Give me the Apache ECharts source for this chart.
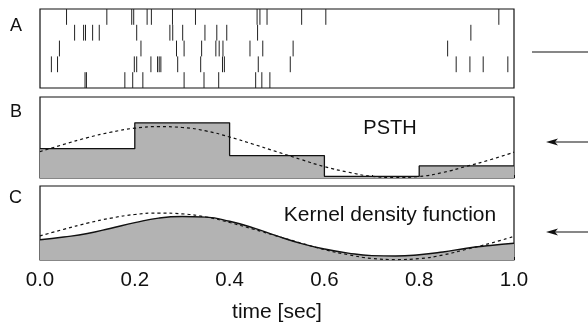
<!DOCTYPE html>
<html><head><meta charset="utf-8">
<script src="https://cdn.jsdelivr.net/npm/echarts@6/dist/echarts.min.js"></script>
<style>html,body{margin:0;padding:0;background:#fff}#c{width:588px;height:324px}</style>
</head><body><div id="c"></div>
<script>
// Spike times (sec) per trial
const trial1 = [0.056,0.141,0.1935,0.1977,0.226,0.235,0.2795,0.328,0.458,0.464,0.479,0.552,0.603,0.968];
const trial2 = [0.073,0.092,0.096,0.111,0.125,0.204,0.274,0.280,0.301,0.348,0.373,0.394,0.459,0.909];
const trial3 = [0.041,0.213,0.288,0.304,0.341,0.371,0.378,0.386,0.443,0.470,0.534,0.860];
const trial4 = [0.024,0.037,0.199,0.204,0.234,0.248,0.2515,0.255,0.2905,0.339,0.385,0.389,0.4605,0.528,0.878,0.907,0.935,0.987];
const trial5 = [0.095,0.098,0.179,0.1956,0.217,0.304,0.346,0.377,0.455,0.468,0.485];
const trials = [trial1, trial2, trial3, trial4, trial5];

// PSTH (spikes / s) per 0.2 s bin
const binEdges = [0, 0.2, 0.4, 0.6, 0.8, 1.0];
const psthRate = [17, 32, 13, 1, 7];

// Underlying rate (dashed) and kernel density estimate (solid), sampled every 0.05 s
const tGrid = [0,0.05,0.1,0.15,0.2,0.25,0.3,0.35,0.4,0.45,0.5,0.55,0.6,0.65,0.7,0.75,0.8,0.85,0.9,0.95,1.0];
const trueRate = [15.3,19.5,23.4,26.6,28.9,29.8,29.3,27.3,23.8,19.6,15.2,10.8,6.6,3.4,1.0,0.3,0.9,3.2,6.8,10.6,15.0];
const kdeRate = [12.9,14.6,16.8,20.2,23.7,26.6,27.6,27.2,24.6,20.4,15.3,10.6,7.0,4.4,2.8,2.5,3.3,5.1,7.5,9.2,10.6];

const tickLabels = ['0.0','0.2','0.4','0.6','0.8','1.0'];
const yMax = 47;

const spikes = [];
trials.forEach((tr, i) => tr.forEach(t => spikes.push([t, i])));
const psthData = binEdges.map((e, i) => [e, psthRate[Math.min(i, psthRate.length - 1)]]);
const trueData = tGrid.map((t, i) => [t, trueRate[i]]);
const kdeData = tGrid.map((t, i) => [t, kdeRate[i]]);

const FONT = 'Liberation Sans, Arial, sans-serif';
const border = {show: true, borderColor: '#111', borderWidth: 1.2, backgroundColor: '#fff'};
const grids = [
  Object.assign({left: 40, width: 474, top: 9, height: 79}, border),
  Object.assign({left: 40, width: 474, top: 97, height: 81}, border),
  Object.assign({left: 40, width: 474, top: 186, height: 81}, border)
];
function xAx(i, labels) {
  return {
    type: 'value', gridIndex: i, min: 0, max: 1, interval: 0.2,
    axisLine: {show: false}, splitLine: {show: false},
    axisTick: {show: i > 0, inside: true, length: 3, lineStyle: {color: '#111'}},
    minorTick: {show: i > 0, splitNumber: 2, length: 3, lineStyle: {color: '#111'}},
    minorSplitLine: {show: false},
    axisLabel: {show: labels, margin: 10, fontSize: 20.5, fontFamily: FONT, color: '#111',
      formatter: v => tickLabels[Math.round(v / 0.2)]},
    name: labels ? 'time [sec]' : '', nameLocation: 'middle', nameGap: 42,
    nameTextStyle: {fontSize: 21, fontFamily: FONT, color: '#111'}
  };
}
function yAx(i, opts) {
  return Object.assign({type: 'value', gridIndex: i, axisLine: {show: false}, axisTick: {show: false},
    axisLabel: {show: false}, splitLine: {show: false}}, opts);
}

const option = {
  animation: false,
  grid: grids,
  xAxis: [xAx(0, false), xAx(1, false), xAx(2, true)],
  yAxis: [yAx(0, {min: 0, max: 5, inverse: true}), yAx(1, {min: 0, max: yMax}), yAx(2, {min: 0, max: yMax})],
  series: [
    {
      type: 'custom', xAxisIndex: 0, yAxisIndex: 0, data: spikes, clip: true,
      renderItem: (params, api) => {
        const t = api.value(0), r = api.value(1);
        const p0 = api.coord([t, r]), p1 = api.coord([t, r + 1]);
        return {type: 'line', shape: {x1: p0[0], y1: p0[1], x2: p1[0], y2: p1[1]},
          style: {stroke: '#222', lineWidth: 1}};
      }
    },
    {
      type: 'line', xAxisIndex: 1, yAxisIndex: 1, data: psthData, step: 'end', symbol: 'none',
      lineStyle: {color: '#111', width: 1.3}, areaStyle: {color: '#b3b3b3', opacity: 1}, z: 2
    },
    {
      type: 'line', xAxisIndex: 1, yAxisIndex: 1, data: trueData, smooth: true, symbol: 'none',
      lineStyle: {color: '#111', width: 1.2, type: [3, 3]}, z: 3
    },
    {
      type: 'line', xAxisIndex: 2, yAxisIndex: 2, data: kdeData, smooth: true, symbol: 'none',
      lineStyle: {color: '#111', width: 1.4}, areaStyle: {color: '#b3b3b3', opacity: 1}, z: 2
    },
    {
      type: 'line', xAxisIndex: 2, yAxisIndex: 2, data: trueData, smooth: true, symbol: 'none',
      lineStyle: {color: '#111', width: 1.2, type: [3, 3]}, z: 3
    }
  ],
  graphic: [
    {type: 'text', left: 10, top: 17, style: {text: 'A', fontSize: 18, fontFamily: FONT, fill: '#111'}},
    {type: 'text', left: 10, top: 103, style: {text: 'B', fontSize: 18, fontFamily: FONT, fill: '#111'}},
    {type: 'text', left: 9, top: 189, style: {text: 'C', fontSize: 18, fontFamily: FONT, fill: '#111'}},
    {type: 'text', x: 390, y: 128, style: {text: 'PSTH', fontSize: 20, fontFamily: FONT, fill: '#111', align: 'center', verticalAlign: 'middle'}, z: 10},
    {type: 'text', x: 390, y: 215, style: {text: 'Kernel density function', fontSize: 21, fontFamily: FONT, fill: '#111', align: 'center', verticalAlign: 'middle'}, z: 10},
    {type: 'line', shape: {x1: 532, y1: 52, x2: 588, y2: 52}, style: {stroke: '#111', lineWidth: 1.2}},
    {type: 'line', shape: {x1: 550, y1: 142, x2: 588, y2: 142}, style: {stroke: '#111', lineWidth: 1.2}},
    {type: 'polygon', shape: {points: [[546, 142], [558, 138.5], [555, 142], [558, 145.5]]}, style: {fill: '#111'}},
    {type: 'line', shape: {x1: 550, y1: 232, x2: 588, y2: 232}, style: {stroke: '#111', lineWidth: 1.2}},
    {type: 'polygon', shape: {points: [[546, 232], [558, 228.5], [555, 232], [558, 235.5]]}, style: {fill: '#111'}}
  ]
};
const chart = echarts.init(document.getElementById('c'), null, {renderer: 'canvas'});
chart.setOption(option);
</script>
</body></html>
